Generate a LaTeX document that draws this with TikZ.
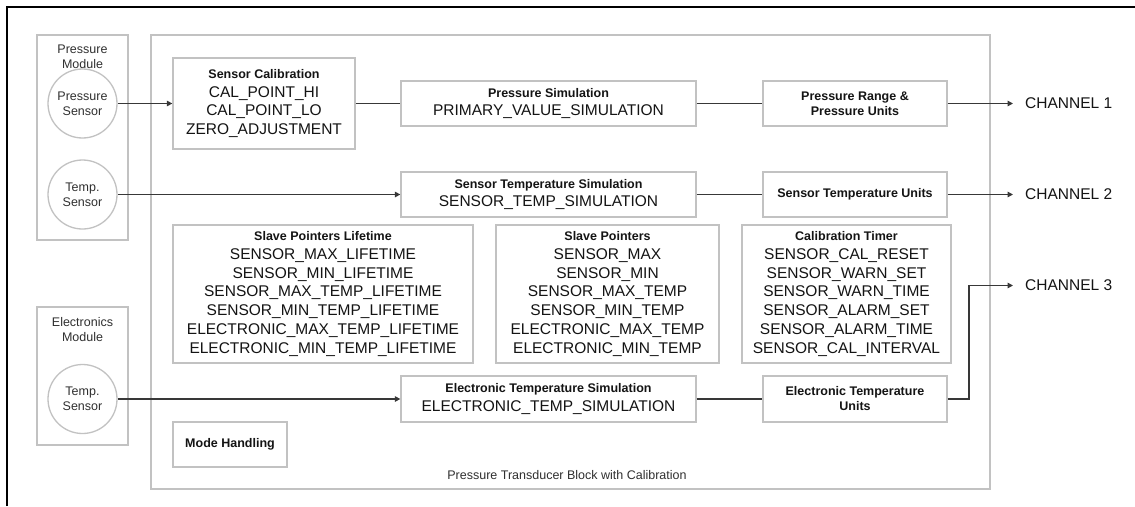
\documentclass[tikz,border=0pt]{standalone}
\usepackage{fontspec}
\setmainfont{Liberation Sans}
\usetikzlibrary{arrows.meta}

\definecolor{boxgray}{HTML}{C2C2C2}
\definecolor{wire}{HTML}{383838}
\definecolor{ink}{HTML}{141414}
\definecolor{softink}{HTML}{303030}

\newcommand\bodyfnt{\fontsize{15.5}{18.7}\selectfont}
\newcommand\ttlfnt{\fontsize{12.5}{15}\selectfont\bfseries}
\newcommand\smallfnt{\fontsize{12.5}{15}\selectfont}

\begin{document}
\begin{tikzpicture}[x=1pt,y=-1pt,
  frame/.style={draw=boxgray, line width=1.3pt, inner sep=0pt},
  block/.style={frame, align=center, text=ink, font=\bodyfnt},
  sensor/.style={circle, draw=boxgray, line width=1.3pt, inner sep=0pt,
    minimum size=69pt, align=center, font=\smallfnt, text=softink},
  caption/.style={inner sep=0pt, align=center, font=\smallfnt, text=softink},
  chan/.style={inner sep=0pt, font=\bodyfnt, text=ink, anchor=west},
  wireline/.style={draw=wire, line width=1.9pt},
  arr/.style={wireline, -{Triangle[length=5.5pt,width=5.5pt]}}]

% page area and its black border (left and top edges)
\useasboundingbox (0,0) rectangle (1135,506);
\fill[white] (0,0) rectangle (1135,506);
\draw[black, line width=2.6pt] (7,506) -- (7,7) -- (1135,7);

% sensor modules
\node[frame, minimum width=91pt, minimum height=205pt] (pmod) at (82.5,137.5) {};
\node[caption, anchor=north] (pmodlbl) at (82.5,44.5) {Pressure\\Module};
\node[sensor] (ps) at (82.5,103.5) {Pressure\\Sensor};
\node[sensor] (ts) at (82.5,194.5) {Temp.\\Sensor};

\node[frame, minimum width=91pt, minimum height=138pt] (emod) at (82.5,376) {};
\node[caption, anchor=north] (emodlbl) at (82.5,317.5) {Electronics\\Module};
\node[sensor] (es) at (82.5,399) {Temp.\\Sensor};

% transducer block
\node[frame, minimum width=839pt, minimum height=454pt] (main) at (570.5,262) {};
\node[caption, anchor=base] (mainlbl) at (567,479.5) {Pressure Transducer Block with Calibration};

% inner blocks
\node[block, minimum width=182pt, minimum height=91pt] (sc) at (264,103.5)
  {{\ttlfnt Sensor Calibration}\\CAL\_POINT\_HI\\CAL\_POINT\_LO\\ZERO\_ADJUSTMENT};
\node[block, minimum width=295pt, minimum height=45pt] (psim) at (548.5,103.5)
  {{\ttlfnt Pressure Simulation}\\PRIMARY\_VALUE\_SIMULATION};
\node[block, font=\ttlfnt, minimum width=184pt, minimum height=45pt] (prange) at (855,103.5)
  {Pressure Range \&\\Pressure Units};

\node[block, minimum width=295pt, minimum height=45pt] (sts) at (548.5,194.5)
  {{\ttlfnt Sensor Temperature Simulation}\\SENSOR\_TEMP\_SIMULATION};
\node[block, font=\ttlfnt, minimum width=184pt, minimum height=45pt] (stu) at (855,194.5)
  {Sensor Temperature Units};

\node[block, minimum width=300pt, minimum height=138pt] (spl) at (323,294)
  {{\ttlfnt Slave Pointers Lifetime}\\SENSOR\_MAX\_LIFETIME\\SENSOR\_MIN\_LIFETIME\\
   SENSOR\_MAX\_TEMP\_LIFETIME\\SENSOR\_MIN\_TEMP\_LIFETIME\\
   ELECTRONIC\_MAX\_TEMP\_LIFETIME\\ELECTRONIC\_MIN\_TEMP\_LIFETIME};
\node[block, minimum width=223pt, minimum height=138pt] (sp) at (607.5,294)
  {{\ttlfnt Slave Pointers}\\SENSOR\_MAX\\SENSOR\_MIN\\SENSOR\_MAX\_TEMP\\
   SENSOR\_MIN\_TEMP\\ELECTRONIC\_MAX\_TEMP\\ELECTRONIC\_MIN\_TEMP};
\node[block, minimum width=209pt, minimum height=138pt] (ct) at (846.5,294)
  {{\ttlfnt Calibration Timer}\\SENSOR\_CAL\_RESET\\SENSOR\_WARN\_SET\\
   SENSOR\_WARN\_TIME\\SENSOR\_ALARM\_SET\\SENSOR\_ALARM\_TIME\\SENSOR\_CAL\_INTERVAL};

\node[block, minimum width=295pt, minimum height=46pt] (ets) at (548.5,399)
  {{\ttlfnt Electronic Temperature Simulation}\\ELECTRONIC\_TEMP\_SIMULATION};
\node[block, font=\ttlfnt, minimum width=184pt, minimum height=46pt] (etu) at (855,399)
  {Electronic Temperature\\Units};

\node[block, font=\ttlfnt, minimum width=114pt, minimum height=45pt] (mh) at (230,444.5)
  {Mode Handling};

% output channels
\node[chan] (ch1) at (1025,103.5) {CHANNEL 1};
\node[chan] (ch2) at (1025,194.5) {CHANNEL 2};
\node[chan] (ch3) at (1025,285.5) {CHANNEL 3};

% signal paths
\draw[arr] (ps.east) -- (sc.west);
\draw[wireline] (sc.east) -- (psim.west);
\draw[wireline] (psim.east) -- (prange.west);
\draw[arr, shorten >=12pt] (prange.east) -- (ch1.west);

\draw[arr] (ts.east) -- (sts.west);
\draw[wireline] (sts.east) -- (stu.west);
\draw[arr, shorten >=12pt] (stu.east) -- (ch2.west);

\draw[arr] (es.east) -- (ets.west);
\draw[wireline] (ets.east) -- (etu.west);
\draw[arr, shorten >=12pt] (etu.east) -- ++(21,0) |- (ch3.west);
\end{tikzpicture}
\end{document}
